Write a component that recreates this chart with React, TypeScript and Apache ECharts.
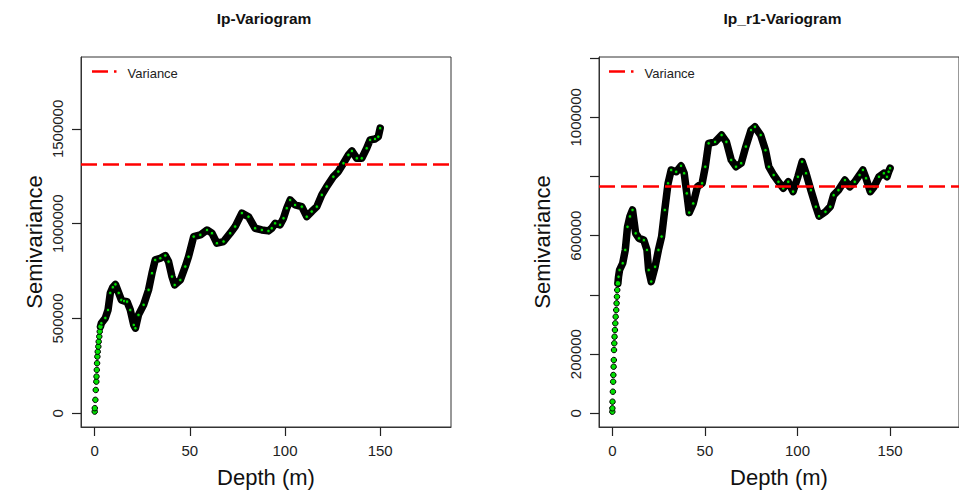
import React, { useEffect, useRef } from "react";
import * as echarts from "echarts";

// ---------- data ----------
const titles = ["Ip-Variogram", "Ip_r1-Variogram"];
const xTicks = [0, 50, 100, 150];
const leftYTicks = [0, 500000, 1000000, 1500000];
const rightYTicks = [0, 200000, 400000, 600000, 800000, 1000000, 1200000];
const rightYLabels = [0, 200000, 600000, 1000000];

const leftVariance = 1314000;
const rightVariance = 765500;

const leftDepth = [
  0, 0.05, 0.35, 0.55, 0.85, 0.95, 1.1, 1.25, 1.4, 1.6, 1.9, 2.1, 2.4, 2.65, 3.0, 3.5,
  5.6, 7, 8.2, 9.5, 10.9, 12.6, 14, 15.5, 17, 18.7, 20.5, 21.4, 23, 25.7, 28.3, 30.1,
  31.8, 34.5, 37.1, 38.8, 40.6, 42, 45, 47.6, 49.3, 52, 55.5, 59, 61.6, 64.2, 67.7,
  71.2, 73.8, 77.3, 80.8, 84.3, 87.8, 91.3, 93, 94.8, 97.4, 99.2, 100.9, 102.7, 105.3,
  108.8, 111.4, 114, 116.7, 119.3, 121.9, 125.4, 128, 130.7, 133.3, 135.1, 137.7,
  140.3, 142.9, 144.7, 147.3, 149, 150,
];
const leftGamma = [
  9000, 27000, 71000, 123000, 167000, 194000, 229000, 264000, 299000, 325000, 352000,
  378000, 405000, 431000, 457000, 475000,
  503000, 545000, 635000, 665000, 680000, 635000, 598000, 592000, 589000, 545000,
  466000, 449000, 519000, 572000, 651000, 739000, 809000, 818000, 832000, 800000,
  721000, 677000, 703000, 774000, 826000, 932000, 941000, 967000, 950000, 897000,
  906000, 950000, 985000, 1056000, 1037000, 976000, 967000, 962000, 976000, 1002000,
  994000, 1029000, 1082000, 1125000, 1099000, 1090000, 1037000, 1064000, 1090000,
  1152000, 1196000, 1248000, 1275000, 1319000, 1363000, 1384000, 1345000, 1345000,
  1398000, 1442000, 1447000, 1459000, 1504000,
];

const rightDepth = [
  0, 0.02, 0.1, 0.3, 0.45, 0.55, 0.7, 0.8, 0.9, 1.05, 1.2, 1.4, 1.6, 1.8, 2.1, 2.3,
  2.5, 2.65, 3.0, 3.35, 3.9,
  5.6, 7, 8.2, 9.5, 10.9, 12.6, 14.4, 17, 18.7, 19.6, 21, 23.1, 24.9, 26.6, 28.3, 30.1,
  31.8, 34.5, 37.1, 38.8, 40.2, 41.5, 43.7, 45.9, 48.5, 50.2, 52, 55.5, 59, 61.6, 64.2,
  66.8, 69.6, 72.1, 74.9, 77, 80.1, 82.7, 84.5, 87.1, 89.7, 92.3, 95, 97.6, 100.2,
  102.5, 104.6, 107.2, 109.9, 111.6, 115.1, 117.7, 119.5, 122.1, 125.6, 128.2, 130.9,
  133.5, 135.3, 137, 139.3, 141.3, 144, 146.6, 148.3, 149.2, 150,
];
const rightGamma = [
  5400, 16900, 39200, 73000, 106700, 129400, 157400, 180000, 213800, 236500, 258800,
  281400, 304000, 326300, 348900, 371600, 393900, 416500, 439100, 461400, 484100,
  507000, 552000, 630000, 665000, 687000, 608000, 591000, 585000, 552000, 484000,
  445000, 495000, 552000, 597000, 687000, 777000, 822000, 816000, 836000, 811000,
  743000, 678000, 709000, 765000, 777000, 833000, 912000, 917000, 940000, 917000,
  856000, 833000, 845000, 901000, 957000, 968000, 940000, 889000, 833000, 805000,
  782000, 760000, 782000, 749000, 799000, 850000, 811000, 754000, 698000, 666000,
  681000, 698000, 737000, 754000, 788000, 765000, 782000, 805000, 822000, 794000,
  749000, 765000, 799000, 811000, 799000, 816000, 828000,
];

// axis extents (R: xlim 0..180, ylim 0..1.2*max, each padded 4%)
const xMin = -7.2;
const xMax = 187.2;
const leftYMin = -72280;
const leftYMax = 1879280;
const rightYMin = -46300;
const rightYMax = 1203700;

const FONT = "Liberation Sans, Arial, sans-serif";
const AXIS_COLOR = "#222";

function pairs(d: number[], g: number[]) {
  return d.map((x, i) => [x, g[i]]);
}

export default function App() {
  const ref = useRef<HTMLDivElement>(null);

  useEffect(() => {
    if (!ref.current) return;
    const chart = echarts.init(ref.current, null, { renderer: "svg" });

    const panels = [
      { left: 81, depth: leftDepth, gamma: leftGamma, yMin: leftYMin, yMax: leftYMax, ticks: leftYTicks, labels: leftYTicks, variance: leftVariance, nameGap: 36 },
      { left: 599, depth: rightDepth, gamma: rightGamma, yMin: rightYMin, yMax: rightYMax, ticks: rightYTicks, labels: rightYLabels, variance: rightVariance, nameGap: 46 },
    ];

    const grids = panels.map((p) => ({
      left: p.left,
      top: 57,
      width: 370,
      height: 370,
      show: true,
      borderColor: "#333",
      borderWidth: 1,
      backgroundColor: "transparent",
    }));

    const axisLine = { show: true, onZero: false, lineStyle: { color: "#333", width: 1 } };

    const xAxes = panels.map((p, i) => ({
      type: "value",
      gridIndex: i,
      position: "bottom",
      min: xMin,
      max: xMax,
      name: "Depth (m)",
      nameLocation: "middle",
      nameGap: 39,
      nameMoveOverlap: false,
      nameTextStyle: { fontFamily: FONT, fontSize: 22, color: "#111" },
      axisLine,
      splitLine: { show: false },
      axisTick: { show: true, inside: false, length: 9, customValues: xTicks, lineStyle: { color: AXIS_COLOR, width: 1.2 } },
      axisLabel: { show: true, customValues: xTicks, margin: 16, fontFamily: FONT, fontSize: 15, color: "#222" },
    }));

    const yAxes = panels.map((p, i) => ({
      type: "value",
      gridIndex: i,
      position: "left",
      min: p.yMin,
      max: p.yMax,
      name: "Semivariance",
      nameLocation: "middle",
      nameGap: p.nameGap,
      nameRotate: 90,
      nameMoveOverlap: false,
      nameTextStyle: { fontFamily: FONT, fontSize: 22, color: "#111" },
      axisLine,
      splitLine: { show: false },
      axisTick: { show: true, inside: false, length: 9, customValues: p.ticks, lineStyle: { color: AXIS_COLOR, width: 1.2 } },
      axisLabel: {
        show: true,
        customValues: p.labels,
        rotate: 90,
        margin: 16,
        fontFamily: FONT,
        fontSize: 15,
        color: "#222",
        formatter: (v: number) => String(v),
      },
    }));

    const series: any[] = [];
    panels.forEach((p, i) => {
      const all = pairs(p.depth, p.gamma);
      // black band through the dense points
      series.push({
        type: "line",
        xAxisIndex: i,
        yAxisIndex: i,
        data: all.filter((d) => d[0] >= 3),
        showSymbol: false,
        symbol: "none",
        lineStyle: { color: "#000", width: 7.5, join: "round", cap: "round" },
        silent: true,
        z: 2,
      });
      // the points
      series.push({
        type: "scatter",
        xAxisIndex: i,
        yAxisIndex: i,
        data: all,
        symbol: "circle",
        symbolSize: (v: number[]) => (v[0] < 3.2 ? 5.5 : 3.5),
        itemStyle: { color: "#00E000", borderColor: "#000", borderWidth: 1, opacity: 1 },
        silent: true,
        z: 3,
        markLine: {
          silent: true,
          symbol: ["none", "none"],
          label: { show: false },
          lineStyle: { color: "#FF0000", width: 2.5, type: [16, 6] },
          emphasis: { disabled: true },
          data: [{ yAxis: p.variance }],
          z: 5,
        },
      });
    });

    const legendX = [92, 609];
    const titleX = [264, 782.5];
    const graphic: any[] = [];
    panels.forEach((p, i) => {
      graphic.push({
        type: "text",
        x: titleX[i],
        y: 18,
        style: { text: titles[i], fontFamily: FONT, fontSize: 15.5, fontWeight: "bold", fill: "#111", align: "center", verticalAlign: "middle" },
      });
      graphic.push({
        type: "line",
        shape: { x1: legendX[i], y1: 71.5, x2: legendX[i] + 24.5, y2: 71.5 },
        style: { stroke: "#FF0000", lineWidth: 2.5, lineDash: [16, 6] },
      });
      graphic.push({
        type: "text",
        x: legendX[i] + 35.5,
        y: 73.5,
        style: { text: "Variance", fontFamily: FONT, fontSize: 13, fill: "#222", align: "left", verticalAlign: "middle" },
      });
    });

    chart.setOption({
      animation: false,
      backgroundColor: "#fff",
      grid: grids,
      xAxis: xAxes,
      yAxis: yAxes,
      series,
      graphic,
    });

    return () => chart.dispose();
  }, []);

  return (
    <div
      ref={ref}
      style={{ position: "fixed", left: 0, top: 0, width: 959, height: 493, background: "#fff" }}
    />
  );
}
